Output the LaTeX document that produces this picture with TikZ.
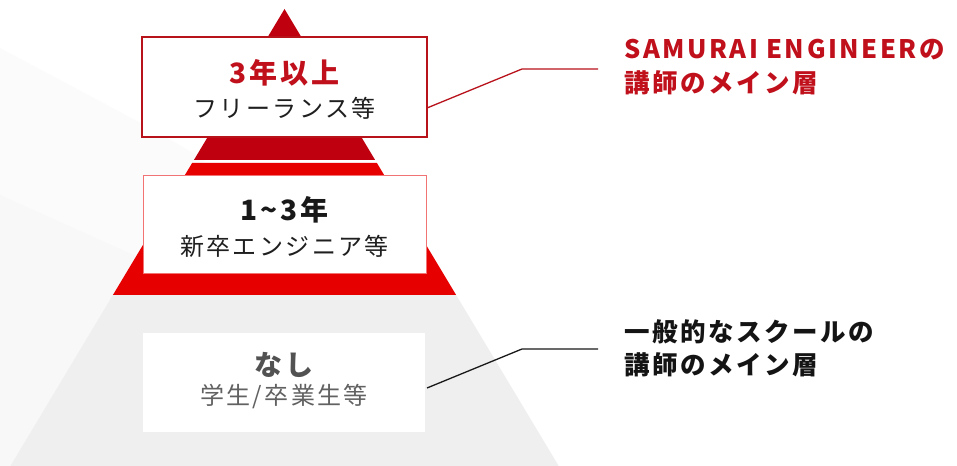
\documentclass[tikz,border=0pt]{standalone}
\usepackage{fontspec}
\newfontfamily\jp{Noto Sans CJK JP}[LetterSpace=10]
\definecolor{dred}{HTML}{BE000F}
\definecolor{bred}{HTML}{E60000}
\definecolor{pgrey}{HTML}{EFEFEF}
\definecolor{bordred}{HTML}{B8121B}
\definecolor{txtred}{HTML}{C0101C}
\definecolor{bgA}{HTML}{FCFBFB}
\definecolor{bgB}{HTML}{F9F8F8}
\tikzset{
  tbox/.style={minimum width=285bp, minimum height=100bp, inner sep=0pt, fill=white},
  head/.style={inner sep=0pt, font=\jp\bfseries\fontsize{28bp}{30bp}\selectfont},
  sub/.style={inner sep=0pt, font=\jp\fontsize{24bp}{26bp}\selectfont},
  side/.style={inner sep=0pt, anchor=west, font=\jp\bfseries\fontsize{25.5bp}{27bp}\selectfont},
  conn/.style={line width=1.3bp}
}
\begin{document}
\begin{tikzpicture}[x=1bp,y=-1bp]
\useasboundingbox (0,0) rectangle (957,466);
\fill[white] (0,0) rectangle (957,466);
% faint background shapes
\fill[bgA] (0,48) -- (150,128) -- (205,160) -- (113,295) -- (10,466) -- (0,466) -- cycle;
\fill[bgB] (0,195) -- (140,258) -- (113,295) -- (10,466) -- (0,466) -- cycle;
% pyramid
\fill[pgrey] (112.9,295) -- (456.1,295) -- (558.7,466) -- (10.3,466) -- cycle;
\fill[bred] (192.1,163) -- (376.9,163) -- (456.1,295) -- (112.9,295) -- cycle;
\fill[dred] (284.5,9) -- (375.1,160) -- (193.9,160) -- cycle;
% boxes
\node[tbox, draw=bordred, line width=1.6bp] (b1) at (284.5,87) {};
\node[tbox, draw=bred!55, line width=0.8bp, minimum height=98bp, minimum width=283bp] (b2) at (284.5,224) {};
\node[tbox, minimum width=282bp, minimum height=99bp] (b3) at (284,382.5) {};
% box texts
\node[head, text=txtred] (h1) at (284.5,73) {3年以上};
\node[sub, text=black!88] (s1) at (284.5,108) {フリーランス等};
\node[head, text=black!90] (h2) at (284.5,210) {1{\char"007E}3年};
\node[sub, text=black!88] (s2) at (284.5,246) {新卒エンジニア等};
\node[head, text=black!68] (h3) at (284,365) {なし};
\node[sub, text=black!62] (s3) at (284,397) {学生/卒業生等};
% side texts
\node[side, text=txtred] (r1) at (624,50) {SAMURAI ENGINEERの};
\node[side, text=txtred] (r2) at (624,83) {講師のメイン層};
\node[side, text=black!92] (r3) at (624,332) {一般的なスクールの};
\node[side, text=black!92] (r4) at (624,365) {講師のメイン層};
% connectors
\coordinate (c1a) at (427,108);
\coordinate (c1b) at (522,69);
\coordinate (c1c) at (598,69);
\coordinate (c2a) at (427,388);
\coordinate (c2b) at (522,349);
\coordinate (c2c) at (598,349);
\draw[conn, bordred] (c1a) -- (c1b) -- (c1c);
\draw[conn, black!90] (c2a) -- (c2b) -- (c2c);
\end{tikzpicture}
\end{document}
